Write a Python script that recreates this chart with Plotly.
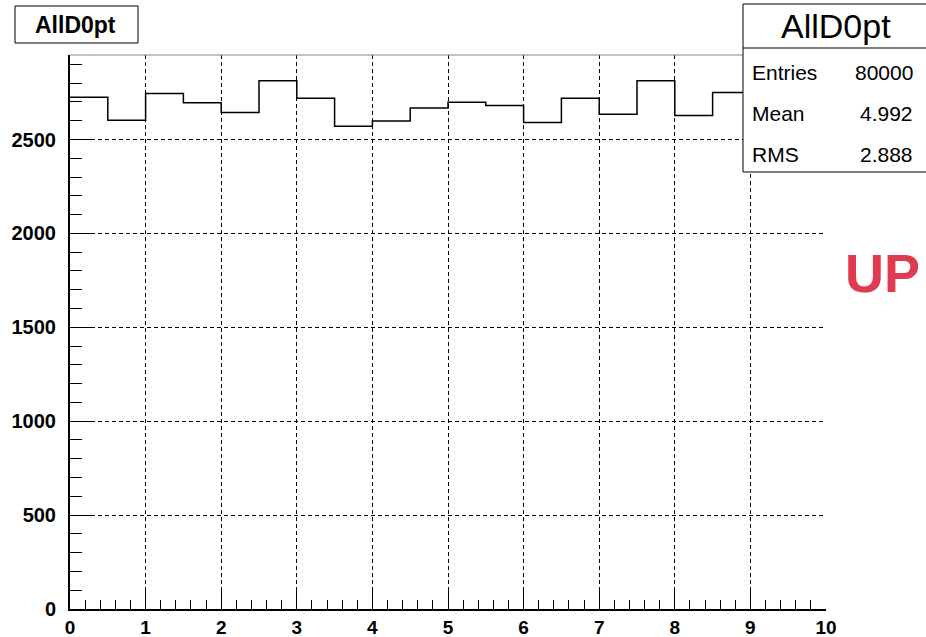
import plotly.graph_objects as go

# ---- data ----
bin_edges = [i * 0.5 for i in range(21)]
counts = [2725, 2603, 2745, 2696, 2644, 2813, 2720, 2571, 2598, 2668,
          2699, 2681, 2591, 2720, 2635, 2813, 2628, 2750, 2700, 2690]
hist_name = "AllD0pt"
stats_labels = ["Entries", "Mean", "RMS"]
stats_values = ["80000", "4.992", "2.888"]
x_tick_vals = list(range(0, 11))
y_tick_vals = [0, 500, 1000, 1500, 2000, 2500]

W, H = 926, 637
L, R, T, B = 70, 100, 55, 28
PW, PH = W - L - R, H - T - B


def px(xp):
    return (xp - L) / PW


def py(yp):
    return (H - B - yp) / PH


FONT = "Liberation Sans"

fig = go.Figure()
fig.add_trace(go.Scatter(
    x=bin_edges,
    y=counts + [counts[-1]],
    mode="lines",
    line=dict(color="black", width=1.5, shape="hv"),
    hoverinfo="skip",
    showlegend=False,
))

fig.update_layout(
    width=W, height=H,
    margin=dict(l=L, r=R, t=T, b=B, autoexpand=False),
    paper_bgcolor="white",
    plot_bgcolor="white",
    showlegend=False,
    font=dict(family=FONT, color="black"),
)

fig.update_xaxes(
    range=[0, 10],
    automargin=False,
    tickvals=x_tick_vals,
    ticks="inside", ticklen=18, tickwidth=1, tickcolor="black",
    minor=dict(dtick=0.2, ticks="inside", ticklen=9, tickwidth=1, tickcolor="black", showgrid=False),
    showgrid=True, gridcolor="black", gridwidth=1, griddash="4px,3px",
    showline=True, linecolor="black", linewidth=2,
    zeroline=False,
    tickfont=dict(family=FONT, size=19, color="black", weight="bold"),
    ticklabelstandoff=0,
)
fig.update_yaxes(
    range=[0, 2950],
    automargin=False,
    tickvals=y_tick_vals,
    ticks="inside", ticklen=24, tickwidth=1, tickcolor="black",
    minor=dict(dtick=100, ticks="inside", ticklen=12, tickwidth=1, tickcolor="black", showgrid=False),
    showgrid=True, gridcolor="black", gridwidth=1, griddash="4px,3px",
    showline=True, linecolor="black", linewidth=2,
    zeroline=False,
    tickfont=dict(family=FONT, size=20, color="black", weight="bold"),
    ticklabelstandoff=8,
)

shapes = []
# top frame line
shapes.append(dict(type="line", xref="paper", yref="paper", x0=0, x1=1, y0=1, y1=1,
                   line=dict(color="#888888", width=1), layer="above"))
# title box
shapes.append(dict(type="rect", xref="paper", yref="paper",
                   x0=px(15), x1=px(138), y0=py(43), y1=py(6),
                   line=dict(color="black", width=1), fillcolor="white", layer="above"))
# stats box
shapes.append(dict(type="rect", xref="paper", yref="paper",
                   x0=px(743), x1=px(940), y0=py(172), y1=py(4),
                   line=dict(color="black", width=1), fillcolor="white", layer="above"))
shapes.append(dict(type="line", xref="paper", yref="paper",
                   x0=px(743), x1=px(940), y0=py(48), y1=py(48),
                   line=dict(color="black", width=1), layer="above"))
fig.update_layout(shapes=shapes)

ann = []
ann.append(dict(text=hist_name, xref="paper", yref="paper", x=px(75), y=py(25),
                xanchor="center", yanchor="middle", showarrow=False,
                font=dict(family=FONT, size=23, color="black", weight="bold")))
ann.append(dict(text=hist_name, xref="paper", yref="paper", x=px(836), y=py(26),
                xanchor="center", yanchor="middle", showarrow=False,
                font=dict(family=FONT, size=34, color="black")))
row_y = [72, 113, 154]
for lab, val, yy in zip(stats_labels, stats_values, row_y):
    ann.append(dict(text=lab, xref="paper", yref="paper", x=px(750), y=py(yy),
                    xanchor="left", yanchor="middle", showarrow=False,
                    font=dict(family=FONT, size=21, color="black")))
    ann.append(dict(text=val, xref="paper", yref="paper", x=px(915), y=py(yy),
                    xanchor="right", yanchor="middle", showarrow=False,
                    font=dict(family=FONT, size=21, color="black")))
ann.append(dict(text="UP", xref="paper", yref="paper", x=px(843), y=py(273),
                xanchor="left", yanchor="middle", showarrow=False,
                font=dict(family=FONT, size=54, color="#E03A50", weight="bold")))
fig.update_layout(annotations=ann)

fig.write_html(
    "out.html",
    config={"displayModeBar": False},
    post_script="document.body.style.margin='0';document.body.style.overflow='hidden';",
)
